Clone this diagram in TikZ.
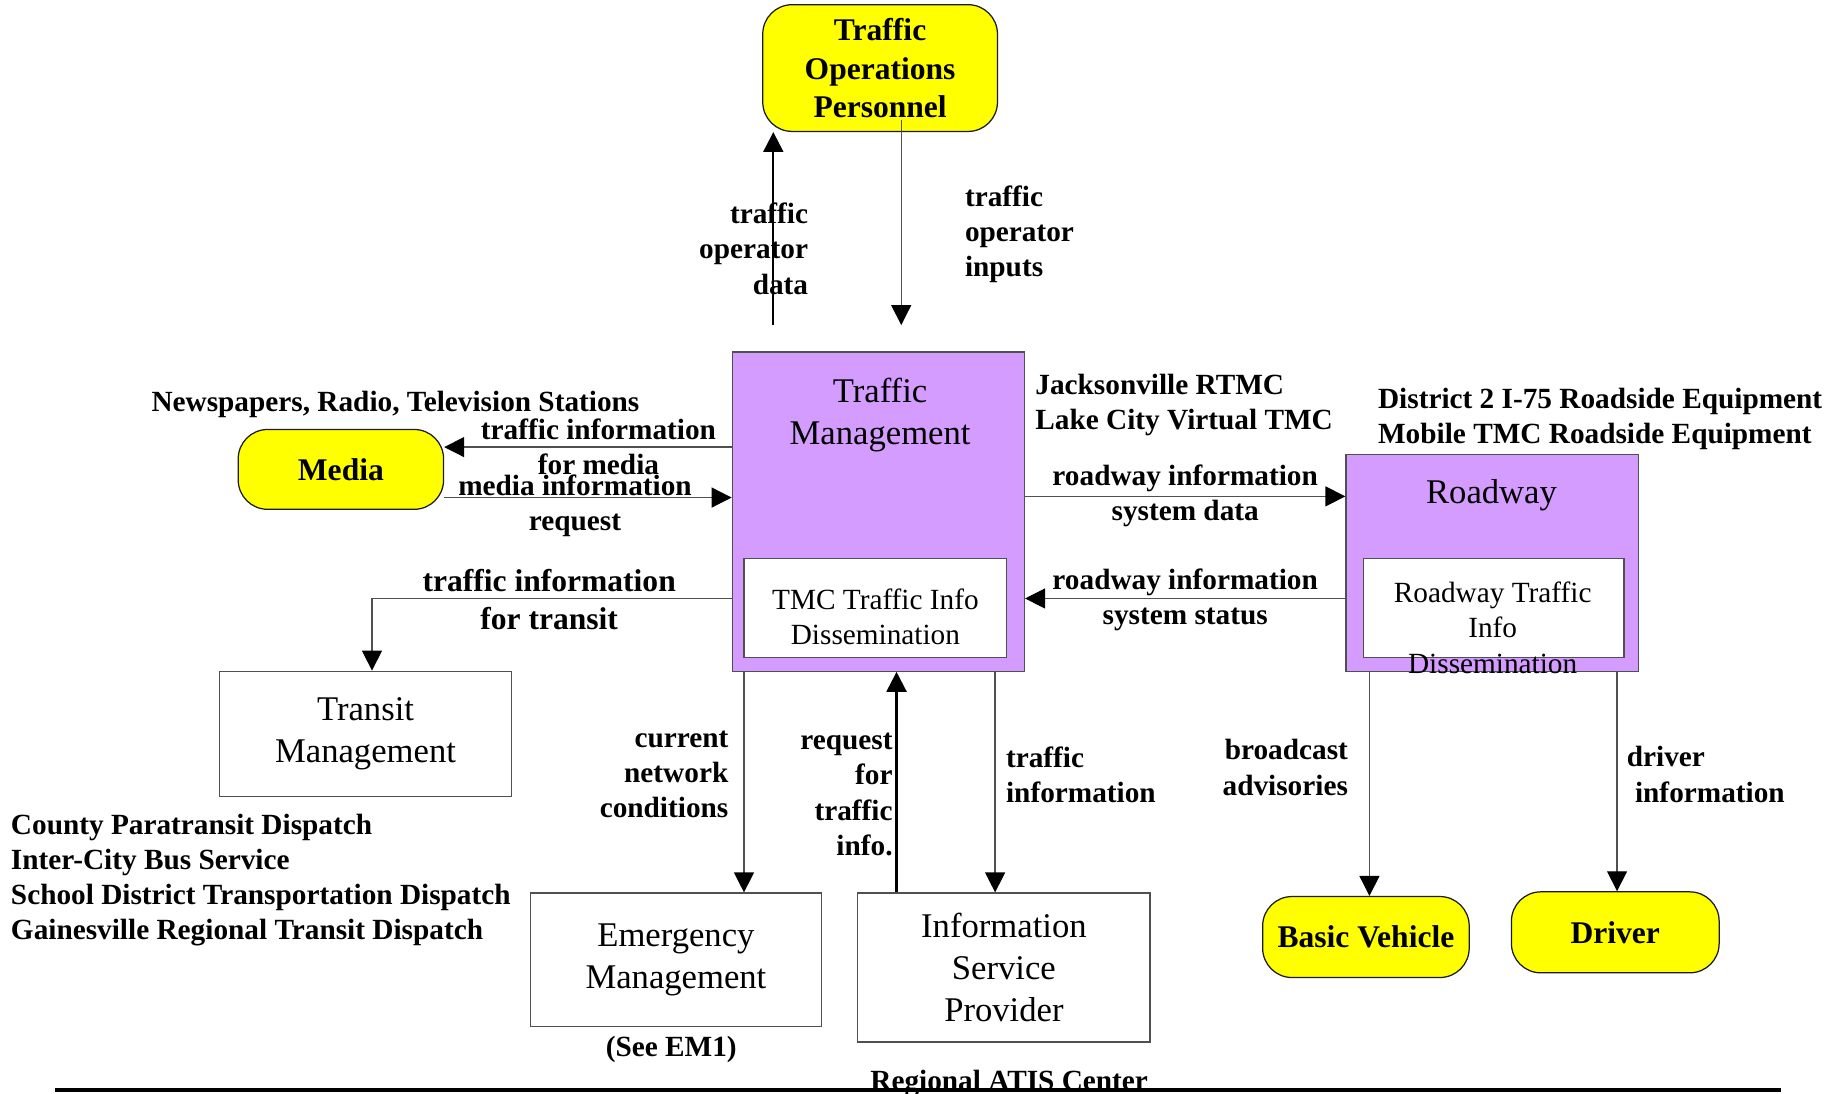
\documentclass[tikz,border=0pt]{standalone}
\usepackage{fontspec}
\setmainfont{Liberation Serif}
\usetikzlibrary{arrows.meta}
\definecolor{diagramink}{HTML}{1A1A1A}
\definecolor{diagramline}{HTML}{505050}
\definecolor{diagramviolet}{HTML}{D49CFF}
\definecolor{diagramyellow}{HTML}{FFFF00}
\newcommand{\flowfont}{\fontsize{14.2}{17}\selectfont\bfseries}
\newcommand{\bigflowfont}{\fontsize{15.3}{18.7}\selectfont\bfseries}
\newcommand{\boxfont}{\fontsize{16.8}{20.4}\selectfont}
\newcommand{\innerfont}{\fontsize{14.2}{17}\selectfont}
\newcommand{\termfont}{\fontsize{15.3}{18.7}\selectfont\bfseries}

\begin{document}
\begin{tikzpicture}[
  x=0.2mm,
  y=-0.2mm,
  every node/.style={font=\flowfont, inner sep=0pt},
  violetbox/.style={draw=diagramline, fill=diagramviolet, line width=0.6pt},
  whitebox/.style={draw=diagramline, fill=white, line width=0.6pt, align=center, font=\boxfont},
  termbox/.style={draw=diagramink, fill=diagramyellow, line width=0.6pt, rounded corners=5mm, align=center, font=\termfont},
  flow/.style={draw=diagramline, line width=0.6pt, -{Triangle[length=3.4mm,width=3.4mm,color=black]}},
  boldflow/.style={flow, draw=black, line width=1.1pt}
]
  \useasboundingbox (0,0) rectangle (1568,932);

  % boxes
  \node[termbox, minimum width=40mm, minimum height=21.6mm] (operators) at (750,58) {Traffic\\Operations\\Personnel};
  \node[violetbox, minimum width=49.8mm, minimum height=54.4mm] (tm) at (748.5,436) {};
  \node[font=\boxfont, align=center] (tmtitle) at (750,354) {Traffic\\Management};
  \node[whitebox, minimum width=44.8mm, minimum height=16.8mm] (tmdiss) at (746,518) {};
  \node[font=\innerfont, align=center] (tmdisstext) at (746,526) {TMC Traffic Info\\Dissemination};
  \node[termbox, minimum width=35mm, minimum height=13.6mm] (media) at (290.5,400) {Media};
  \node[whitebox, minimum width=49.8mm, minimum height=21.4mm] (transit) at (311.5,625.5) {Transit\\Management};
  \node[whitebox, minimum width=49.6mm, minimum height=22.8mm] (emergency) at (576,818) {Emergency\\Management};
  \node[whitebox, minimum width=49.8mm, minimum height=25.4mm] (isp) at (855.5,824.5) {Information\\Service\\Provider};
  \node[violetbox, minimum width=49.8mm, minimum height=37mm] (roadway) at (1271.5,479.5) {};
  \node[font=\boxfont] (roadwaytitle) at (1271,422) {Roadway};
  \node[whitebox, minimum width=44.4mm, minimum height=16.8mm] (roaddiss) at (1273,518) {};
  \node[font=\innerfont, align=center] (roaddisstext) at (1272,535) {Roadway Traffic\\Info\\Dissemination};
  \node[termbox, minimum width=35.2mm, minimum height=13.8mm] (vehicle) at (1164,798.5) {Basic Vehicle};
  \node[termbox, minimum width=35.4mm, minimum height=13.8mm] (driver) at (1376.5,794.5) {Driver};

  % site names
  \node (mediasites) at (337,345) {Newspapers, Radio, Television Stations};
  \node[anchor=west, align=left] (tmsites) at (882,345) {Jacksonville RTMC\\Lake City Virtual TMC};
  \node[anchor=west, align=left] (roadsites) at (1174,357) {District 2 I-75 Roadside Equipment\\Mobile TMC Roadside Equipment};
  \node[anchor=west, align=left] (transitsites) at (9,750) {County Paratransit Dispatch\\Inter-City Bus Service\\School District Transportation Dispatch\\Gainesville Regional Transit Dispatch};
  \node (emsite) at (572,894) {(See EM1)};
  \node (ispsite) at (860,923) {Regional ATIS Center};
  \draw[black, line width=1.7pt] (47,929) -- (1518,929);

  % flow labels
  \node[anchor=east, align=right] (opdatalabel) at (689,212) {traffic\\operator\\data};
  \node[anchor=west, align=left] (opinputslabel) at (822,200) {traffic\\operator\\inputs};
  \node[align=center] (medialabel) at (510,381) {traffic information\\for media};
  \node[align=center] (requestlabel) at (490,431) {media information\\request};
  \node[align=center, font=\bigflowfont] (transitlabel) at (468,511) {traffic information\\for transit};
  \node[align=center] (roaddatalabel) at (1010,422.5) {roadway information\\system data};
  \node[align=center] (roadstatuslabel) at (1010,511) {roadway information\\system status};
  \node[anchor=east, align=right] (networklabel) at (621,660) {current\\network\\conditions};
  \node[anchor=east, align=right] (reqinfolabel) at (761,677) {request\\for\\traffic\\info.};
  \node[anchor=west, align=left] (trafinfolabel) at (857,660) {traffic\\information};
  \node[anchor=east, align=right] (advisorylabel) at (1149,654) {broadcast\\advisories};
  \node[anchor=west, align=left] (driverlabel) at (1386,660) {driver\\\hspace*{1.4mm}information};

  % flows
  \coordinate (opdata) at (659,277);
  \coordinate (opinputs) at (768,277);
  \draw[boldflow] (opdata) -- (opdata |- operators.south);
  \draw[flow, shorten <=-2mm] (opinputs |- operators.south) -- (opinputs);
  \draw[flow] (tm.west |- 0,381) -- (media.east |- 0,381);
  \draw[flow] (media.east |- 0,424) -- (tm.west |- 0,424);
  \draw[flow] (tm.west |- 0,510) -| (transit.north -| 317,0);
  \draw[flow] (tm.south -| 634,0) -- (emergency.north -| 634,0);
  \draw[boldflow] (isp.north -| 764,0) -- (tm.south -| 764,0);
  \draw[flow] (tm.south -| 848,0) -- (isp.north -| 848,0);
  \draw[flow] (tm.east |- 0,423) -- (roadway.west |- 0,423);
  \draw[flow] (roadway.west |- 0,510) -- (tm.east |- 0,510);
  \draw[flow] (roadway.south -| 1167,0) -- (vehicle.north -| 1167,0);
  \draw[flow] (roadway.south -| 1378,0) -- (driver.north -| 1378,0);
\end{tikzpicture}
\end{document}
